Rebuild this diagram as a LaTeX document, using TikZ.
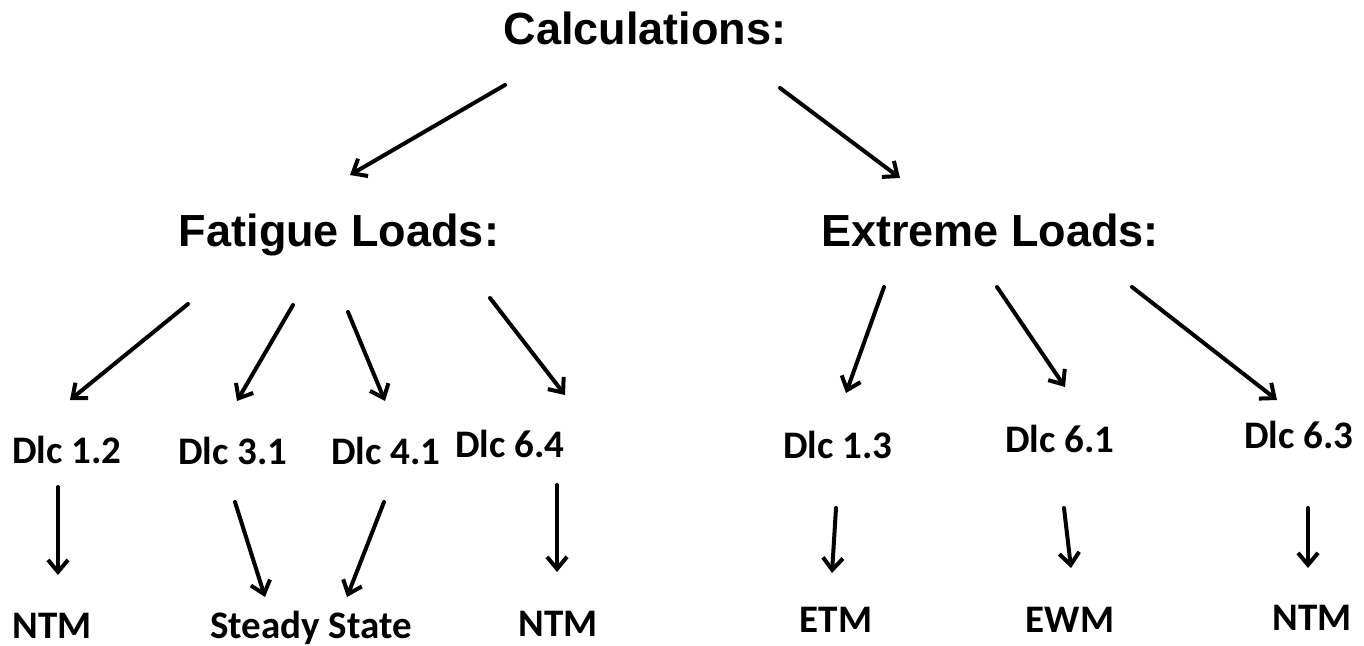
\documentclass[tikz,border=0pt]{standalone}
\usepackage{fontspec}
\usepackage{tikz}
\usetikzlibrary{arrows.meta, positioning}
\newfontfamily\headfont{Liberation Sans}
\newfontfamily\casefont{Carlito}

\begin{document}
\begin{tikzpicture}[
    x=0.5pt, y=-0.5pt,
    head/.style={anchor=base, inner sep=0pt,
                 font=\headfont\bfseries\fontsize{22.5}{27}\selectfont},
    case/.style={anchor=base, inner sep=0pt,
                 font=\casefont\bfseries\fontsize{19.5}{23}\selectfont},
    fl/.style={-{Straight Barb[length=6pt, width=10pt, line width=2pt]},
               line width=2pt, line cap=round}
]
    \useasboundingbox (0,0) rectangle (1364,646);

    % top and the two groups
    \node[head] (calc) at (645,45)  {Calculations:};
    \node[head] (fat)  at (339,247) {Fatigue Loads:};
    \node[head] (ext)  at (990,247) {Extreme Loads:};

    % load cases
    \node[case] (d12) at (67,463)   {Dlc 1.2};
    \node[case] (d31) at (233,464)  {Dlc 3.1};
    \node[case] (d41) at (386,464)  {Dlc 4.1};
    \node[case] (d64) at (510,457)  {Dlc 6.4};
    \node[case] (d13) at (838,458)  {Dlc 1.3};
    \node[case] (d61) at (1060,452) {Dlc 6.1};
    \node[case] (d63) at (1299,448) {Dlc 6.3};

    % wind models
    \node[case] (ntma) at (52,638)   {NTM};
    \node[case] (sst)  at (311,638)  {Steady State};
    \node[case] (ntmb) at (558,636)  {NTM};
    \node[case] (etm)  at (836,632)  {ETM};
    \node[case] (ewm)  at (1070,632) {EWM};
    \node[case] (ntmc) at (1312,630) {NTM};

    \draw[fl] ([shift={(-140,40)}]calc.base) -- ([shift={(11,-72)}]fat.base);
    \draw[fl] ([shift={(135,43)}]calc.base)  -- ([shift={(-90,-69)}]ext.base);

    \draw[fl] ([shift={(-151,57)}]fat.base) -- ([shift={(3,-63)}]d12.base);
    \draw[fl] ([shift={(-46,58)}]fat.base)  -- ([shift={(4,-63)}]d31.base);
    \draw[fl] ([shift={(9,65)}]fat.base)    -- ([shift={(-1,-63)}]d41.base);
    \draw[fl] ([shift={(151,51)}]fat.base)  -- ([shift={(55,-62)}]d64.base);

    \draw[fl] ([shift={(-106,40)}]ext.base) -- ([shift={(8,-65)}]d13.base);
    \draw[fl] ([shift={(7,40)}]ext.base)    -- ([shift={(5,-65)}]d61.base);
    \draw[fl] ([shift={(142,40)}]ext.base)  -- ([shift={(-22,-48)}]d63.base);

    \draw[fl] ([shift={(-9,24)}]d12.base) -- ([shift={(6,-63)}]ntma.base);
    \draw[fl] ([shift={(2,38)}]d31.base)  -- ([shift={(-46,-41)}]sst.base);
    \draw[fl] ([shift={(-2,38)}]d41.base) -- ([shift={(36,-41)}]sst.base);
    \draw[fl] ([shift={(47,28)}]d64.base) -- ([shift={(-1,-64)}]ntmb.base);
    \draw[fl] ([shift={(-2,50)}]d13.base) -- ([shift={(-4,-59)}]etm.base);
    \draw[fl] ([shift={(4,56)}]d61.base)  -- ([shift={(1,-64)}]ewm.base);
    \draw[fl] ([shift={(9,60)}]d63.base)  -- ([shift={(-4,-62)}]ntmc.base);
\end{tikzpicture}
\end{document}
